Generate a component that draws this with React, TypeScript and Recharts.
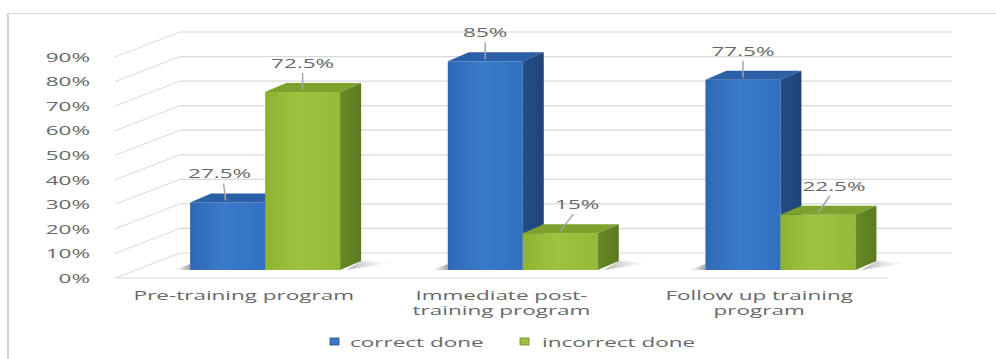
import React from 'react';
import { BarChart, Bar, XAxis, YAxis, CartesianGrid, Legend, LabelList } from 'recharts';

const categories = ['Pre-training program', 'Immediate post-training program', 'Follow up training program'];
const tickLines = [['Pre-training program'], ['Immediate post-', 'training program'], ['Follow up training', 'program']];
const correctDone = [0.275, 0.85, 0.775];
const incorrectDone = [0.725, 0.15, 0.225];
const yTicks = [0, 0.1, 0.2, 0.3, 0.4, 0.5, 0.6, 0.7, 0.8, 0.9];
const seriesNames = ['correct done', 'incorrect done'];

const data = categories.map((c, i) => ({ category: c, correct: correctDone[i], incorrect: incorrectDone[i] }));

// styling / geometry constants
const FONT = '"Open Sans", "DejaVu Sans", sans-serif';
const SX = 1.8; // horizontal stretch of text
const TEXT = '#686868';
const GRID = '#d9d9d9';
const DX = 21; // bar depth
const DY = -9;
const FX = -21; // bar plane -> front plane
const FY = 8;
const BX = 44; // bar plane -> back wall
const BY = -17;
const CHART_H = 359;
const MARGIN = { top: 49, right: 87, bottom: 5, left: 0 };
const XAXIS_H = 64;
const LEGEND_H = 20;
const PLOT_BOTTOM = CHART_H - MARGIN.bottom - LEGEND_H - XAXIS_H;

const PAL = {
  blue: { id: 'b', f0: '#2d68b4', f1: '#3b7bcc', f2: '#3170c0', top: '#2b5fa6', side: '#234e8a', side2: '#1f4478' },
  green: { id: 'g', f0: '#8cb233', f1: '#9dc440', f2: '#93ba38', top: '#7ca22d', side: '#678a26', side2: '#5a7a20' },
};

const fmt = (v: number) => `${+(v * 100).toFixed(1)}%`;

function Bar3D(props: any) {
  const { x, y, width: w, height: h, pal, shadowSide } = props;
  if (w == null || h == null) return null;
  const b = y + h;
  const shadow =
    shadowSide === 'left'
      ? `M${x - 16},${b} L${x},${b - 6} L${x},${b} Z`
      : `M${x + w + DX},${b + DY} L${x + w + DX + 30},${b + DY + 2} L${x + w + 6},${b} Z`;
  return (
    <g>
      <path d={shadow} fill={`url(#shadow-${shadowSide})`} />
      <rect x={x} y={y} width={w} height={h} fill={`url(#front-${pal.id})`} />
      <path
        d={`M${x},${y} L${x + DX},${y + DY} L${x + w + DX},${y + DY} L${x + w},${y} Z`}
        fill={pal.top}
      />
      <path
        d={`M${x + w},${y} L${x + w + DX},${y + DY} L${x + w + DX},${b + DY} L${x + w},${b} Z`}
        fill={`url(#side-${pal.id})`}
      />
    </g>
  );
}

const labelShift = {
  correct: [-8, 0, 0],
  incorrect: [0, 17, 16],
};

function makeLabel(key: 'correct' | 'incorrect') {
  return (props: any) => {
    const { x, y, width: w, value, index } = props;
    const shift = labelShift[key][index] || 0;
    const cx = x + w / 2;
    const lx = cx + shift;
    const ly = y - 29;
    return (
      <g>
        <line x1={cx + (shift < 0 ? -2 : 0)} y1={y - 2} x2={lx + (shift < 0 ? 4 : shift > 0 ? -4 : 0)} y2={ly + 10} stroke="#a6a6a6" strokeWidth={1.5} />
        <text
          transform={`translate(${lx},${ly}) scale(${SX},1)`}
          textAnchor="middle"
          dominantBaseline="central"
          fontFamily={FONT}
          fontSize={12.5}
          fill={TEXT}
        >
          {fmt(value)}
        </text>
      </g>
    );
  };
}

function YTick(props: any) {
  const { y, payload } = props;
  return (
    <text
      transform={`translate(90,${y + FY}) scale(${SX},1)`}
      textAnchor="end"
      dominantBaseline="central"
      fontFamily={FONT}
      fontSize={12.5}
      fill={TEXT}
    >
      {`${Math.round(payload.value * 100)}%`}
    </text>
  );
}

function XTick(props: any) {
  const { x, y, index } = props;
  const lines = tickLines[index] || [];
  return (
    <g>
      {lines.map((ln, i) => (
        <text
          key={i}
          transform={`translate(${x + FX},${y + 23 + i * 15}) scale(${SX},1)`}
          textAnchor="middle"
          dominantBaseline="central"
          fontFamily={FONT}
          fontSize={12.5}
          fill={TEXT}
        >
          {ln}
        </text>
      ))}
    </g>
  );
}

function GridLine(props: any) {
  const { x1, x2, y1, index } = props;
  const fy = y1 + FY;
  const fx = x1 + FX;
  const by = y1 + BY;
  const bx = x1 + BX;
  const isFloor = Math.abs(y1 - PLOT_BOTTOM) < 1;
  return (
    <g key={`gl-${index}-${y1}`}>
      <line x1={fx} y1={fy} x2={bx} y2={by} stroke={GRID} strokeWidth={1} />
      <line x1={bx} y1={by} x2={x2 + BX - 1} y2={by} stroke={GRID} strokeWidth={1.2} />
      {isFloor ? <line x1={fx} y1={fy} x2={x2 + FX} y2={fy} stroke={GRID} strokeWidth={1.2} /> : null}
    </g>
  );
}

function LegendContent() {
  const items = [
    { name: seriesNames[0], pal: PAL.blue, sx: 330, tx: 350 },
    { name: seriesNames[1], pal: PAL.green, sx: 520, tx: 542 },
  ];
  return (
    <svg width={996} height={LEGEND_H} style={{ display: 'block' }}>
      {items.map((it) => (
        <g key={it.name}>
          <rect x={it.sx} y={4} width={9} height={7} fill={it.pal.f1} stroke={it.pal.side} strokeWidth={0.8} />
          <text
            transform={`translate(${it.tx},${8}) scale(${SX},1)`}
            textAnchor="start"
            dominantBaseline="central"
            fontFamily={FONT}
            fontSize={12.5}
            fill={TEXT}
          >
            {it.name}
          </text>
        </g>
      ))}
    </svg>
  );
}

export default function App() {
  return (
    <div style={{ position: 'absolute', left: 0, top: 0, width: 996, height: 359, background: '#fff' }}>
      <div
        style={{
          position: 'absolute',
          left: 7,
          top: 13,
          width: 1000,
          height: 360,
          borderLeft: '2px solid #d4d4d4',
          borderTop: '1px solid #d9d9d9',
        }}
      />
      <div style={{ position: 'absolute', left: 0, top: 0 }}>
        <BarChart
          width={996}
          height={CHART_H}
          data={data}
          margin={MARGIN}
          barCategoryGap="21%"
          barGap={0}
        >
          <defs>
            {[PAL.blue, PAL.green].map((p) => (
              <React.Fragment key={p.id}>
                <linearGradient id={`front-${p.id}`} x1="0" y1="0" x2="1" y2="0">
                  <stop offset="0%" stopColor={p.f0} />
                  <stop offset="45%" stopColor={p.f1} />
                  <stop offset="100%" stopColor={p.f2} />
                </linearGradient>
                <linearGradient id={`side-${p.id}`} x1="0" y1="0" x2="1" y2="0">
                  <stop offset="0%" stopColor={p.side} />
                  <stop offset="100%" stopColor={p.side2} />
                </linearGradient>
              </React.Fragment>
            ))}
            <linearGradient id="shadow-left" x1="1" y1="0" x2="0" y2="0">
              <stop offset="0%" stopColor="#7f7f7f" stopOpacity={0.7} />
              <stop offset="100%" stopColor="#bfbfbf" stopOpacity={0.1} />
            </linearGradient>
            <linearGradient id="shadow-right" x1="0" y1="0" x2="1" y2="0">
              <stop offset="0%" stopColor="#7f7f7f" stopOpacity={0.6} />
              <stop offset="100%" stopColor="#d9d9d9" stopOpacity={0.05} />
            </linearGradient>
          </defs>
          <CartesianGrid vertical={false} horizontal={(p: any) => <GridLine {...p} />} />
          <XAxis
            dataKey="category"
            axisLine={false}
            tickLine={false}
            tickSize={0}
            height={XAXIS_H}
            interval={0}
            tick={(p: any) => <XTick {...p} />}
          />
          <YAxis
            width={136}
            domain={[0, 0.9]}
            ticks={yTicks}
            axisLine={false}
            tickLine={false}
            interval={0}
            tick={(p: any) => <YTick {...p} />}
          />
          <Legend verticalAlign="bottom" height={LEGEND_H} content={() => <LegendContent />} />
          <Bar
            dataKey="correct"
            name={seriesNames[0]}
            fill={PAL.blue.f1}
            isAnimationActive={false}
            shape={(p: any) => <Bar3D {...p} pal={PAL.blue} shadowSide="left" />}
          >
            <LabelList dataKey="correct" content={makeLabel('correct')} />
          </Bar>
          <Bar
            dataKey="incorrect"
            name={seriesNames[1]}
            fill={PAL.green.f1}
            isAnimationActive={false}
            shape={(p: any) => <Bar3D {...p} pal={PAL.green} shadowSide="right" />}
          >
            <LabelList dataKey="incorrect" content={makeLabel('incorrect')} />
          </Bar>
        </BarChart>
      </div>
    </div>
  );
}
